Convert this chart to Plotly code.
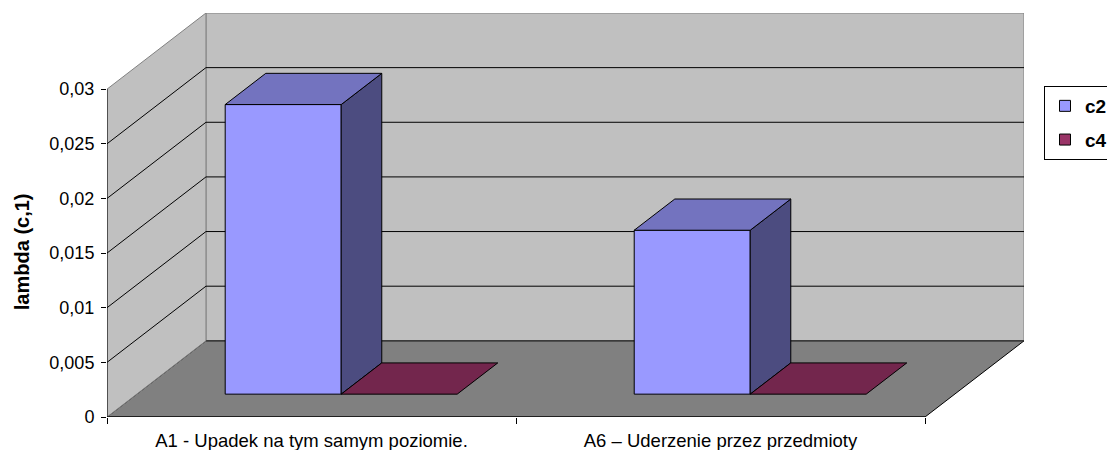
import plotly.graph_objects as go

# ---- data ----
categories = ["A1 - Upadek na tym samym poziomie.", "A6 – Uderzenie przez przedmioty"]
series_names = ["c2", "c4"]
c2_values = [0.0265, 0.015]
c4_values = [0.0, 0.0]
y_tick_values = [0, 0.005, 0.01, 0.015, 0.02, 0.025, 0.03]
y_tick_labels = ["0", "0,005", "0,01", "0,015", "0,02", "0,025", "0,03"]
y_max = 0.03

# ---- styling / geometry (not data) ----
front_colors = {"c2": "#9999FF", "c4": "#993366"}
top_colors = {"c2": "#7373BF", "c4": "#73264D"}
side_colors = {"c2": "#4C4C80", "c4": "#4C1A33"}
WALL = "#C0C0C0"
FLOOR = "#808080"
EDGE = "#808080"
DX = 0.242       # oblique depth shift in category units
DY = 0.00697     # oblique depth shift in value units
D0, D1 = 0.30, 0.71   # depth fraction where bars start/end
BAR_W = 0.2836
n_cat = len(categories)
FONT = "Liberation Sans, Arial, sans-serif"

fig = go.Figure()


def poly(xs, ys, fill, line="black", width=1):
    fig.add_trace(go.Scatter(
        x=list(xs) + [xs[0]], y=list(ys) + [ys[0]], mode="lines", fill="toself",
        fillcolor=fill, line=dict(color=line, width=width),
        hoverinfo="skip", showlegend=False))


def polyline(xs, ys, color="black", width=1):
    fig.add_trace(go.Scatter(x=xs, y=ys, mode="lines", line=dict(color=color, width=width),
                             hoverinfo="skip", showlegend=False))


# back wall
poly([DX, n_cat + DX, n_cat + DX, DX], [DY, DY, y_max + DY, y_max + DY], WALL, EDGE)
# floor
poly([0, n_cat, n_cat + DX, DX], [0, 0, DY, DY], FLOOR, "black")
# left wall
poly([0, 0, DX, DX], [0, y_max, y_max + DY, DY], WALL, EDGE)
# gridlines
for v in y_tick_values[1:-1]:
    polyline([0, DX, n_cat + DX], [v, v + DY, v + DY])
# floor back edge
polyline([DX, n_cat + DX], [DY, DY], "#404040")

# bars
all_series = {"c2": c2_values, "c4": c4_values}
group_w = BAR_W * len(series_names)
for i in range(n_cat):
    for j, s in enumerate(series_names):
        v = all_series[s][i]
        x0 = i + 0.5 - group_w / 2 + j * BAR_W + D0 * DX
        x1 = x0 + BAR_W
        yb = D0 * DY
        ddx = (D1 - D0) * DX
        ddy = (D1 - D0) * DY
        if v > 0:
            poly([x0, x1, x1, x0], [yb, yb, yb + v, yb + v], front_colors[s])
            poly([x1, x1 + ddx, x1 + ddx, x1], [yb, yb + ddy, yb + v + ddy, yb + v], side_colors[s])
        poly([x0, x1, x1 + ddx, x0 + ddx], [yb + v, yb + v, yb + v + ddy, yb + v + ddy], top_colors[s])

# axis lines
polyline([0, 0], [0, y_max])
polyline([0, n_cat], [0, 0])

# legend entries
for k, s in enumerate(series_names):
    fig.add_trace(go.Scatter(
        x=[None], y=[None], mode="markers", name=s, legendgroup=s,
        marker=dict(symbol="square", size=11, color=front_colors[s], line=dict(color="black", width=1))))

fig.add_annotation(text="<b>lambda (c,1)</b>", textangle=-90, xref="paper", yref="paper",
                   x=(21.7 - 107) / 917, y=(417 - 251.5) / 404, xanchor="center", yanchor="middle",
                   showarrow=False, font=dict(family=FONT, size=20, color="black"))

fig.update_layout(
    width=1107, height=450,
    margin=dict(l=107, r=83, t=13, b=33, autoexpand=False),
    paper_bgcolor="white", plot_bgcolor="white",
    font=dict(family=FONT, color="black"),
    showlegend=True,
    legend=dict(x=(1044 - 107) / 917, y=(417 - 86) / 404, xanchor="left", yanchor="top",
                bordercolor="black", borderwidth=1, bgcolor="white",
                font=dict(family=FONT, size=19, color="black", weight="bold"),
                tracegroupgap=6, itemwidth=30),
    xaxis=dict(range=[0, n_cat + DX], showgrid=False, zeroline=False, showline=False,
               automargin=False,
               tickmode="array", tickvals=[i + 0.5 for i in range(n_cat)], ticktext=categories,
               ticks="", ticklabelstandoff=10, tickfont=dict(family=FONT, size=18.5, color="black"),
               minor=dict(tickmode="array", tickvals=list(range(n_cat + 1)), ticks="outside",
                          ticklen=6, tickcolor="black", showgrid=False),
               fixedrange=True),
    yaxis=dict(range=[0, y_max + DY], showgrid=False, zeroline=False, showline=False,
               automargin=False,
               tickmode="array", tickvals=y_tick_values, ticktext=y_tick_labels,
               ticks="outside", ticklen=5, tickcolor="black", ticklabelstandoff=3,
               tickfont=dict(family=FONT, size=18, color="black"), fixedrange=True),
)

fig.write_html("out.html", config={"displayModeBar": False},
               post_script="document.body.style.margin='0px';document.body.style.overflow='hidden';")
